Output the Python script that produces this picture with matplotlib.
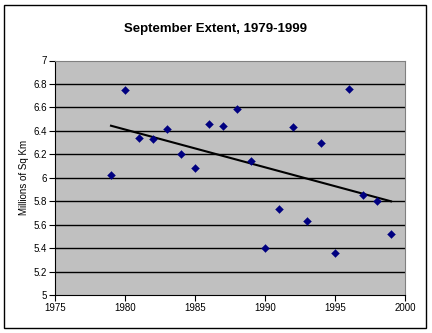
import numpy as np
import matplotlib.pyplot as plt
from matplotlib.patches import Rectangle

# September sea ice extent (millions of sq km)
years = [1979, 1980, 1981, 1982, 1983, 1984, 1985, 1986, 1987, 1988,
         1989, 1990, 1991, 1992, 1993, 1994, 1995, 1996, 1997, 1998, 1999]
extent = [6.02, 6.75, 6.34, 6.33, 6.42, 6.20, 6.08, 6.46, 6.44, 6.59,
          6.14, 5.40, 5.73, 6.43, 5.63, 6.30, 5.36, 6.76, 5.85, 5.80, 5.52]

x_ticks = [1975, 1980, 1985, 1990, 1995, 2000]
y_ticks = [5, 5.2, 5.4, 5.6, 5.8, 6, 6.2, 6.4, 6.6, 6.8, 7]
y_labels = ["5", "5.2", "5.4", "5.6", "5.8", "6", "6.2", "6.4", "6.6", "6.8", "7"]

plt.rcParams['font.family'] = ['Liberation Sans', 'DejaVu Sans']

fig = plt.figure(figsize=(4.32, 3.33), dpi=100)
ax = fig.add_axes([55 / 432, 38 / 333, 350 / 432, 234.5 / 333])

ax.set_facecolor('#C0C0C0')
for y in y_ticks[1:-1]:
    ax.axhline(y, color='black', linewidth=1.0, zorder=1)

ax.scatter(years, extent, marker='D', s=16, color='#000080',
           edgecolors='#000080', linewidths=0.3, zorder=3)

# linear trend line
slope, intercept = np.polyfit(years, extent, 1)
xs = np.array([years[0], years[-1]])
ax.plot(xs, slope * xs + intercept, color='black', linewidth=1.5, zorder=2)

ax.set_xlim(1975, 2000)
ax.set_ylim(5, 7)
ax.set_xticks(x_ticks)
ax.set_xticklabels([str(v) for v in x_ticks])
ax.set_yticks(y_ticks)
ax.set_yticklabels(y_labels)
ax.tick_params(axis='both', labelsize=7, length=4, width=0.8, color='black', pad=2)

for side in ['top', 'right']:
    ax.spines[side].set_color('#808080')
    ax.spines[side].set_linewidth(0.8)
for side in ['left', 'bottom']:
    ax.spines[side].set_color('black')
    ax.spines[side].set_linewidth(0.8)

ax.set_ylabel('Millions of Sq Km', fontsize=7, labelpad=3)
fig.suptitle('September Extent, 1979-1999', fontsize=9.5, fontweight='bold', y=0.93)

# chart border
fig.patches.append(Rectangle((4 / 432, 5 / 333), 422 / 432, 323 / 333,
                             transform=fig.transFigure, fill=False,
                             edgecolor='black', linewidth=1.0))

fig.savefig('out.png', dpi=100)
